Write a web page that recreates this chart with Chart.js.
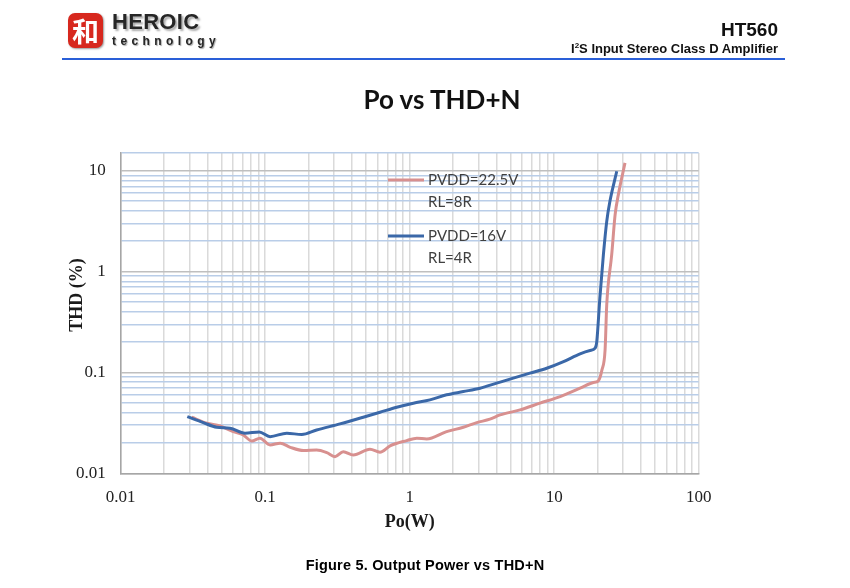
<!DOCTYPE html>
<html><head><meta charset="utf-8">
<script src="https://cdn.jsdelivr.net/npm/chart.js@4.4.1/dist/chart.umd.min.js"></script>
<style>
html,body{margin:0;padding:0;background:#fff;}
#wrap{position:relative;width:850px;height:588px;overflow:hidden;font-family:"Liberation Sans",Arial,sans-serif;}
#c{position:absolute;left:0;top:0;}
.abs{position:absolute;white-space:nowrap;}
#seal{left:68px;top:13px;width:35px;height:35px;border-radius:7px;background:#d7281e;color:#fff;font:bold 27px "Noto Sans CJK SC";line-height:35px;text-align:center;box-shadow:1px 1px 2px #999;}
#brand{left:112px;top:9px;font:bold 22px "Liberation Sans";color:#262626;text-shadow:2px 2px 2px #aaa;letter-spacing:0.3px;}
#tech{left:112px;top:34px;font:bold 12px "Liberation Sans";color:#262626;letter-spacing:4.4px;text-shadow:1px 1px 1px #aaa;}
#part{right:72px;top:19px;font:bold 19px "Liberation Sans";color:#111;}
#sub{right:72px;top:41px;font:bold 13px "Liberation Sans";color:#111;}
#rule{left:62px;top:58px;width:723px;height:2px;background:#2a5fd8;}
#title{left:442px;top:99px;transform:translate(-50%,-50%);font:bold 26px Lato;color:#111;}
#caption{left:425px;top:565px;transform:translate(-50%,-50%);font:bold 14.5px "Liberation Sans";letter-spacing:0.2px;color:#000;}
</style></head><body>
<div id="wrap">
<canvas id="c" width="850" height="588"></canvas>
<div class="abs" id="seal">和</div>
<div class="abs" id="brand">HEROIC</div>
<div class="abs" id="tech">technology</div>
<div class="abs" id="part">HT560</div>
<div class="abs" id="sub">I<sup style="font-size:8px">2</sup>S Input Stereo Class D Amplifier</div>
<div class="abs" id="rule"></div>
<div class="abs" id="title">Po vs THD+N</div>
<div class="abs" id="caption">Figure 5. Output Power vs THD+N</div>
</div>
<script>
// ---- data ----
const seriesNames = ['PVDD=22.5V RL=8R', 'PVDD=16V RL=4R'];
const redLegend = ['PVDD=22.5V', 'RL=8R'];
const blueLegend = ['PVDD=16V', 'RL=4R'];

const redPower = [0.031,0.0394,0.0487,0.0601,0.0705,0.0807,0.092,0.108,0.127,0.149,0.184,0.227,0.267,0.304,0.347,0.407,0.531,0.623,0.731,0.953,1.12,1.31,1.80,2.35,2.91,3.59,4.22,5.80,7.98,11.0,15.1,18.7,20.2,21.4,22.5,23.1,25.0,26.4,27.8,30.9];
const redThd = [0.0360,0.0314,0.0295,0.0259,0.0240,0.0209,0.0223,0.0191,0.0199,0.0181,0.0168,0.0170,0.0160,0.0146,0.0164,0.0152,0.0173,0.0162,0.0187,0.0211,0.0223,0.0219,0.0259,0.0286,0.0318,0.0344,0.0379,0.0425,0.0496,0.0576,0.0698,0.0794,0.0825,0.106,0.168,0.469,1.47,3.67,5.80,11.97];

const bluePower = [0.0289,0.0373,0.0462,0.0571,0.0725,0.091,0.108,0.141,0.179,0.227,0.329,0.477,0.623,0.813,1.06,1.38,1.80,2.35,3.07,4.00,5.21,6.80,8.87,11.6,15.1,17.7,19.2,19.7,20.7,21.9,23.1,24.3,27.1];
const blueThd = [0.0365,0.0318,0.0286,0.0280,0.0250,0.0257,0.0231,0.0250,0.0242,0.0269,0.0309,0.0360,0.0403,0.0452,0.0496,0.0535,0.0600,0.0646,0.0698,0.0783,0.0878,0.0984,0.110,0.128,0.153,0.165,0.174,0.201,0.547,1.47,3.15,4.98,9.89];

const xTickValues = [0.01,0.02,0.03,0.04,0.05,0.06,0.07,0.08,0.09,0.1,0.2,0.3,0.4,0.5,0.6,0.7,0.8,0.9,1,2,3,4,5,6,7,8,9,10,20,30,40,50,60,70,80,90,100];
const xMajorValues = [0.01,0.1,1,10,100];
const xTickLabels = ['0.01','0.1','1','10','100'];
const yTickValues = [0.01,0.02,0.03,0.04,0.05,0.06,0.07,0.08,0.09,0.1,0.2,0.3,0.4,0.5,0.6,0.7,0.8,0.9,1,2,3,4,5,6,7,8,9,10,15];
const yMajorValues = [0.01,0.1,1,10];
const yTickLabels = ['0.01','0.1','1','10'];

const redColor = '#d8908f';
const blueColor = '#3b68a8';

const toPoints = (xs, ys) => xs.map((x, i) => ({x: x, y: ys[i]}));
const labelFor = (v, majors, labels) => { const i = majors.indexOf(v); return i >= 0 ? labels[i] : ''; };

const overlay = {
  id: 'overlay',
  afterDraw(chart) {
    const ctx = chart.ctx;
    ctx.save();
    // y axis title
    ctx.translate(77, 295);
    ctx.rotate(-Math.PI / 2);
    ctx.font = 'bold 18px "Liberation Serif"';
    ctx.fillStyle = '#1a1a1a';
    ctx.textAlign = 'center';
    ctx.textBaseline = 'middle';
    ctx.fillText('THD (%)', 0, 0);
    ctx.restore();
    // legend
    ctx.save();
    const items = [{c: redColor, t: redLegend, y: 180}, {c: blueColor, t: blueLegend, y: 236}];
    items.forEach(it => {
      ctx.strokeStyle = it.c; ctx.lineWidth = 3; ctx.lineCap = 'butt';
      ctx.beginPath(); ctx.moveTo(388, it.y); ctx.lineTo(424, it.y); ctx.stroke();
      ctx.font = '15px Lato'; ctx.fillStyle = '#404040';
      ctx.textAlign = 'left'; ctx.textBaseline = 'middle';
      ctx.fillText(it.t[0], 428, it.y);
      ctx.fillText(it.t[1], 428, it.y + 22);
    });
    ctx.restore();
  }
};

new Chart(document.getElementById('c'), {
  type: 'scatter',
  data: {
    datasets: [
      {label: seriesNames[0], data: toPoints(redPower, redThd), showLine: true, borderColor: redColor, backgroundColor: redColor,
       borderWidth: 3, pointRadius: 0, cubicInterpolationMode: 'monotone', order: 1},
      {label: seriesNames[1], data: toPoints(bluePower, blueThd), showLine: true, borderColor: blueColor, backgroundColor: blueColor,
       borderWidth: 3, pointRadius: 0, cubicInterpolationMode: 'monotone', order: 0}
    ]
  },
  options: {
    responsive: false,
    animation: false,
    events: [],
    layout: {padding: {left: 0, right: 151.3, top: 153, bottom: 50}},
    plugins: {legend: {display: false}, tooltip: {enabled: false}},
    scales: {
      x: {
        type: 'logarithmic', min: 0.01, max: 100,
        afterBuildTicks: s => { s.ticks = xTickValues.map(v => ({value: v})); },
        afterFit: s => { s.height = 64.7; },
        ticks: {autoSkip: false, maxRotation: 0, padding: 14, color: '#222',
                font: {family: 'Liberation Serif', size: 17},
                callback: v => labelFor(v, xMajorValues, xTickLabels)},
        grid: {drawTicks: false, color: '#dadada', lineWidth: 1.5},
        border: {color: '#a6a6a6', width: 1.5},
        title: {display: true, text: 'Po(W)', color: '#1a1a1a',
                font: {family: 'Liberation Serif', size: 18, weight: 'bold'}, padding: {top: 0, bottom: 5}}
      },
      y: {
        type: 'logarithmic', min: 0.01, max: 15,
        afterBuildTicks: s => { s.ticks = yTickValues.map(v => ({value: v})); },
        afterFit: s => { s.width = 120.7; },
        ticks: {autoSkip: false, padding: 15, color: '#222',
                font: {family: 'Liberation Serif', size: 17},
                callback: v => labelFor(v, yMajorValues, yTickLabels)},
        grid: {drawTicks: false, lineWidth: 1.5,
               color: c => (yMajorValues.indexOf(c.tick.value) >= 0 ? '#bfbfbf' : '#b9cde8')},
        border: {color: '#a6a6a6', width: 1.5}
      }
    }
  },
  plugins: [overlay]
});
</script>
</body></html>
